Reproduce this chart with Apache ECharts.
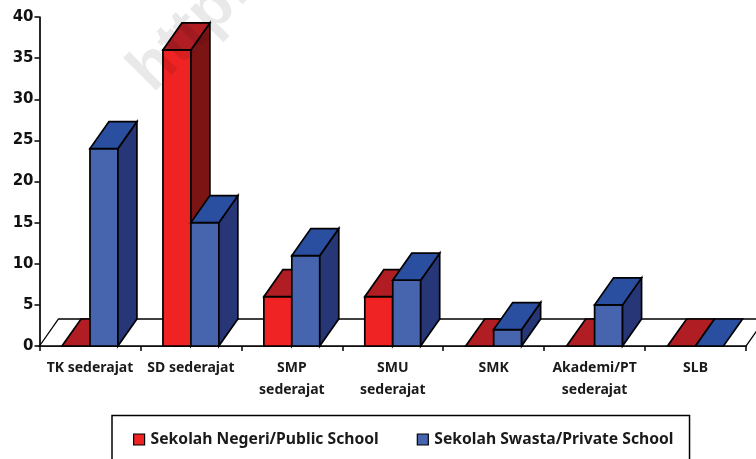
<!DOCTYPE html>
<html>
<head>
<meta charset="utf-8">
<style>html,body{margin:0;padding:0;background:#fff}#c{width:756px;height:459px}</style>
<script src="https://cdn.jsdelivr.net/npm/echarts@6/dist/echarts.min.js"></script>
</head>
<body>
<div id="c"></div>
<script>
const categories = ['TK sederajat','SD sederajat','SMP\nsederajat','SMU\nsederajat','SMK','Akademi/PT\nsederajat','SLB'];
const publicName = 'Sekolah Negeri/Public School';
const privateName = 'Sekolah Swasta/Private School';
const publicValues = [0,36,6,6,0,0,0];
const privateValues = [24,15,11,8,2,5,0];
const yTicks = [0,40,5];

const DX = 19, DY = -27, BAR = 0.277;
const chart = echarts.init(document.getElementById('c'), null, {renderer:'canvas'});
const outline = {stroke:'#000', lineWidth:1.7, lineJoin:'miter'};

function poly(points, fill){
  return {type:'polygon', shape:{points}, style:Object.assign({fill}, outline)};
}
function bars(front, top, side, offset){
  return function(params, api){
    const i = api.value(0), v = api.value(1);
    const base = api.coord([i,0]), head = api.coord([i,v]);
    const w = api.size([1,0])[0]*BAR;
    const x0 = base[0]+offset*w, x1 = x0+w, y0 = base[1], y1 = head[1];
    const kids = [];
    if (v>0) kids.push(poly([[x0,y0],[x1,y0],[x1,y1],[x0,y1]], front));
    if (v>0) kids.push(poly([[x1,y0],[x1+DX,y0+DY],[x1+DX,y1+DY],[x1,y1]], side));
    kids.push(poly([[x0,y1],[x1,y1],[x1+DX,y1+DY],[x0+DX,y1+DY]], top));
    return {type:'group', children:kids};
  };
}
function floor(params, api){
  const band = api.size([1,0])[0];
  const a = api.coord([0,0]), b = api.coord([categories.length-1,0]);
  const l = a[0]-band/2, r = b[0]+band/2, y = a[1];
  return {type:'polygon', silent:true,
    shape:{points:[[l,y],[l+DX,y+DY],[r+DX,y+DY],[r,y]]},
    style:{fill:'#fff', stroke:'#000', lineWidth:1.3}};
}
function rows(vals){ return vals.map((v,i)=>[i,v]); }

chart.setOption({
  animation:false,
  backgroundColor:'#fff',
  graphic:[{type:'text', silent:true, z:100, x:163, y:104, rotation:Math.PI/4,
    style:{text:'http://', fill:'rgba(0,0,0,0.085)', font:'bold 64px "Liberation Sans"', verticalAlign:'bottom', textVerticalAlign:'bottom'}}],
  grid:{left:39.5, right:10, top:17, bottom:113, containLabel:false},
  legend:{
    left:112, top:415.5, orient:'horizontal',
    padding:[16,16,20,21], itemGap:38, itemWidth:11, itemHeight:11,
    borderColor:'#000', borderWidth:1.5, backgroundColor:'#fff',
    icon:'rect',
    textStyle:{fontFamily:'Noto Sans', fontWeight:'bold', fontSize:15.7, color:'#1a1a1a', padding:[0,0,0,1]},
    data:[
      {name:publicName, itemStyle:{color:'#EF2323', borderColor:'#000', borderWidth:1.2}},
      {name:privateName, itemStyle:{color:'#4765AF', borderColor:'#000', borderWidth:1.2}}
    ]
  },
  xAxis:{
    type:'category', data:categories, boundaryGap:true,
    axisLine:{show:true, onZero:false, lineStyle:{color:'#000', width:1.7}},
    axisTick:{show:true, alignWithLabel:false, length:5, lineStyle:{color:'#000', width:1.5}},
    axisLabel:{interval:0, margin:11, lineHeight:22, fontFamily:'Noto Sans', fontWeight:'bold', fontSize:14, color:'#1a1a1a', verticalAlign:'top'}
  },
  yAxis:{
    type:'value', min:yTicks[0], max:yTicks[1], interval:yTicks[2],
    splitLine:{show:false},
    axisLine:{show:true, lineStyle:{color:'#000', width:1.7}},
    axisTick:{show:true, length:5, lineStyle:{color:'#000', width:1.5}},
    axisLabel:{margin:6, padding:[5,0,0,0], fontFamily:'DejaVu Sans', fontWeight:'bold', fontSize:15, color:'#111'}
  },
  series:[
    {type:'custom', name:'floor', z:1, silent:true, renderItem:floor, data:[[0,0]], clip:false},
    {type:'custom', name:publicName, z:2, silent:true, clip:false, renderItem:bars('#EF2323','#B01E24','#7D1414',-1),
      itemStyle:{color:'#EF2323'}, data:rows(publicValues), encode:{x:0,y:1}},
    {type:'custom', name:privateName, z:3, silent:true, clip:false, renderItem:bars('#4765AF','#2A4EA0','#263676',0),
      itemStyle:{color:'#4765AF'}, data:rows(privateValues), encode:{x:0,y:1}}
  ]
});
</script>
</body>
</html>
